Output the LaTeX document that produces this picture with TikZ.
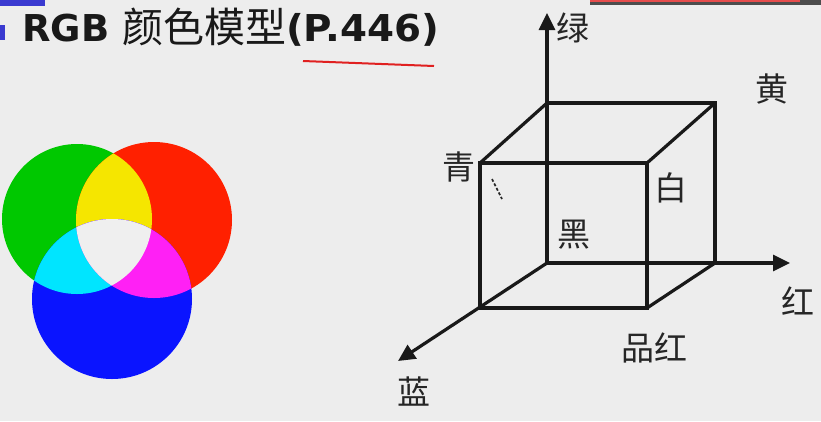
\documentclass[tikz,border=0pt]{standalone}
\usepackage{fontspec}
\setmainfont{DejaVu Sans}
\newfontfamily\cjk{Noto Sans CJK SC}
\usetikzlibrary{arrows.meta}
\definecolor{bggray}{HTML}{EDEDED}
\definecolor{rgbgreen}{HTML}{00C800}
\definecolor{rgbred}{HTML}{FF2000}
\definecolor{rgbblue}{HTML}{0A14FF}
\definecolor{rgbyellow}{HTML}{F5E600}
\definecolor{rgbcyan}{HTML}{00E5FF}
\definecolor{rgbmagenta}{HTML}{FF20F5}
\definecolor{rgbwhite}{HTML}{EFEFEF}
\definecolor{barblue}{HTML}{3A3AD0}
\definecolor{linered}{HTML}{E02020}

\begin{document}
\begin{tikzpicture}[x=1pt, y=-1pt,
	edgeline/.style={line width=3.2pt, black!90},
	axisline/.style={line width=3.2pt, black!90, -{Triangle[length=17pt, width=16pt]}},
	colorname/.style={font=\fontsize{33}{33}\cjk, black!85, inner sep=0pt},
	titlebit/.style={font=\fontsize{37}{37}\bfseries, black!90, inner sep=0pt, anchor=base west}]
\useasboundingbox[fill=bggray] (0,0) rectangle (821,421);
% strips at the border
\fill[barblue] (0,0) rectangle (45,6);
\fill[barblue] (0,25) rectangle (5,40);
\fill[black!70] (590,0) rectangle (821,5);
\fill[linered!80] (590,0) rectangle (800,2);
% title
\node[titlebit] (rgb) at (22,41) {RGB};
\node[titlebit, font=\fontsize{41}{41}\cjk] (name) at (122,42) {颜色模型};
\node[titlebit, xscale=1.05, transform shape] (page) at (286,41) {(P.446)};
\coordinate (markl) at (303,61);
\coordinate (markr) at (434,66);
\draw[linered, line width=2pt] (markl) -- (markr);
% colour circles
\fill[rgbgreen] (77,219) circle (75);
\fill[rgbred] (154,220) circle (78);
\begin{scope}
	\clip (77,219) circle (75);
	\fill[rgbyellow] (154,220) circle (78);
\end{scope}
\fill[rgbblue] (112,299) circle (80);
\begin{scope}
	\clip (112,299) circle (80);
	\fill[rgbcyan] (77,219) circle (75);
	\fill[rgbmagenta] (154,220) circle (78);
	\clip (77,219) circle (75);
	\fill[rgbwhite] (154,220) circle (78);
\end{scope}
% cube corners
\coordinate (black) at (547,263);
\coordinate (backtl) at (547,103);
\coordinate (yellow) at (715,103);
\coordinate (red) at (715,263);
\coordinate (blue) at (480,308);
\coordinate (cyan) at (480,163);
\coordinate (white) at (647,163);
\coordinate (magenta) at (647,308);
\coordinate (greentip) at (547,13);
\coordinate (redtip) at (790,263);
\coordinate (bluetip) at (398,361);
% axes
\draw[axisline] (black) -- (greentip);
\draw[axisline] (black) -- (redtip);
\draw[axisline] (black) -- (bluetip);
% cube
\draw[edgeline] (cyan) -- (white) -- (magenta) -- (blue) -- cycle;
\draw[edgeline] (backtl) -- (yellow) -- (red);
\draw[edgeline] (cyan) -- (backtl);
\draw[edgeline] (white) -- (yellow);
\draw[edgeline] (magenta) -- (red);
% labels
\node[colorname] (lgreen) at (573,28) {绿};
\node[colorname] (lyellow) at (772,89) {黄};
\node[colorname] (lcyan) at (459,167) {青};
\node[colorname] (lwhite) at (671,188) {白};
\node[colorname] (lblack) at (574,235) {黑};
\node[colorname] (lred) at (798,301) {红};
\node[colorname] (lmagenta) at (654,348) {品红};
\node[colorname] (lblue) at (414,392) {蓝};
% pen mark
\coordinate (pena) at (492,179);
\coordinate (penb) at (502,199);
\draw[black!85, line width=1.6pt, densely dashed] (pena) -- (penb);
\end{tikzpicture}
\end{document}
